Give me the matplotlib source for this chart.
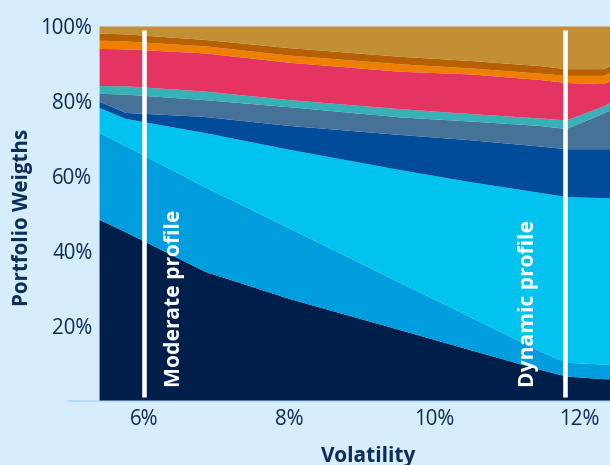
import matplotlib
matplotlib.use("Agg")
import matplotlib.pyplot as plt
import numpy as np

plt.rcParams['font.family'] = ['Open Sans', 'DejaVu Sans']

# Volatility (%) of the frontier points
volatility = [5.38, 5.74, 6.84, 8.01, 9.53, 10.49, 11.46, 11.82, 12.33, 12.42]

# Portfolio weights (%) per asset class, bottom to top
w_navy      = [48.3, 45.0, 34.4, 27.1, 18.8, 13.5, 8.2, 6.4, 5.7, 5.7]
w_midblue   = [23.2, 23.0, 22.6, 18.8, 12.6, 8.8, 4.9, 3.7, 3.9, 3.8]
w_cyan      = [6.7, 7.3, 14.5, 21.1, 30.2, 36.1, 42.4, 44.3, 44.5, 44.6]
w_darkblue  = [1.7, 1.6, 4.3, 6.4, 9.4, 11.2, 12.4, 12.8, 13.1, 13.1]
w_slate     = [2.1, 4.9, 4.5, 5.0, 4.7, 5.0, 5.5, 5.4, 9.5, 10.3]
w_teal      = [2.1, 2.2, 2.3, 1.9, 2.2, 2.0, 2.0, 2.3, 1.9, 2.0]
w_red       = [9.9, 9.9, 10.2, 10.0, 10.0, 10.6, 10.3, 10.0, 6.0, 5.8]
w_orange    = [2.2, 2.1, 1.9, 1.9, 2.0, 1.6, 1.7, 1.9, 2.2, 2.3]
w_darkorange= [1.9, 1.9, 1.7, 2.0, 2.0, 2.0, 2.0, 1.8, 1.8, 1.7]

series = [w_navy, w_midblue, w_cyan, w_darkblue, w_slate, w_teal,
          w_red, w_orange, w_darkorange]
cum = np.sum(series, axis=0)
w_gold = list(100 - cum)
series.append(w_gold)

colors = ['#001e4a', '#009ddf', '#00c3f0', '#004c9a', '#467298',
          '#38b1b6', '#e63462', '#f07f00', '#b85f00', '#c28f35']

profiles = ["Moderate profile", "Dynamic profile"]
profile_vol = [5.99, 11.80]
profile_text_offset = [0.43, -0.50]

x_ticks = [6, 8, 10, 12]
x_tick_labels = ["6%", "8%", "10%", "12%"]
y_ticks = [20, 40, 60, 80, 100]
y_tick_labels = ["20%", "40%", "60%", "80%", "100%"]

bg = '#d5edfc'
txt = '#0d2c56'

fig = plt.figure(figsize=(6.10, 4.65), dpi=100, facecolor=bg)
ax = fig.add_axes([99.3 / 610, 64.5 / 465, 510.7 / 610, 374 / 465])
ax.set_facecolor(bg)

ax.stackplot(volatility, *series, colors=colors, linewidth=0)

for v, off, label in zip(profile_vol, profile_text_offset, profiles):
    ax.vlines(v, 0.9, 99.1, color='white', linewidth=3.3, zorder=5)
    ax.text(v + off, 3.7, label, rotation=90, color='white',
            fontsize=15.2, fontweight='bold', ha='center', va='bottom', zorder=6)

ax.set_xlim(5.376, 12.42)
ax.set_ylim(0, 100)

ax.set_xticks(x_ticks)
ax.set_xticklabels(x_tick_labels)
ax.set_yticks(y_ticks)
ax.set_yticklabels(y_tick_labels)
ax.tick_params(axis='both', length=0, labelsize=14.8, labelcolor=txt)
ax.tick_params(axis='y', pad=5)
ax.tick_params(axis='x', pad=6)

for s in ax.spines.values():
    s.set_visible(False)

# baseline
ax.plot([-0.059, 1.0], [0, 0], transform=ax.transAxes, color='#b8dcf5',
        linewidth=1.5, clip_on=False, zorder=0)

ax.set_ylabel("Portfolio Weigths", fontsize=14.8, fontweight='bold', color=txt)
ax.yaxis.set_label_coords(-0.13, 0.49)
ax.set_xlabel("Volatility", fontsize=15, fontweight='bold', color=txt)
ax.xaxis.set_label_coords(0.526, -0.121)

fig.savefig("out.png", dpi=100, facecolor=bg)
